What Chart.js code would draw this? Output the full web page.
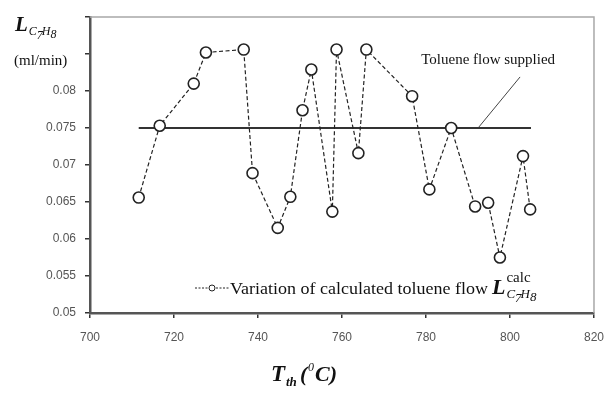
<!DOCTYPE html>
<html>
<head>
<meta charset="utf-8">
<script src="https://cdn.jsdelivr.net/npm/chart.js@4.4.0/dist/chart.umd.min.js"></script>
<style>
  html, body { margin: 0; padding: 0; background: #fff; }
  #wrap { width: 616px; height: 396px; }
</style>
</head>
<body>
<div id="wrap"><canvas id="chart1" width="616" height="396"></canvas></div>
<script>
// DONNEES
// Temperature Tth (°C)
let temperature = [711.6, 716.6, 724.7, 727.6, 736.6, 738.7, 744.7, 747.7, 750.6, 752.7, 757.7,
                   758.7, 763.9, 765.8, 776.7, 780.8, 786.0, 791.7, 794.8, 797.6, 803.1, 804.8];
// debit de toluene calcule (ml/min)
let debitCalcule = [0.0656, 0.0753, 0.0810, 0.0852, 0.0856, 0.0689, 0.0615, 0.0657, 0.0774, 0.0829, 0.0637,
                    0.0856, 0.0716, 0.0856, 0.0793, 0.0667, 0.0750, 0.0644, 0.0649, 0.0575, 0.0712, 0.0640];
// debit fourni (ligne horizontale)
let debitFourniX = [711.6, 805];
let debitFourniY = [0.075, 0.075];
// trait de renvoi vers l'etiquette
let renvoiX = [792.4, 802.4];
let renvoiY = [0.075, 0.0819];

let xTicks = [700, 720, 740, 760, 780, 800, 820];
let yTicks = [0.05, 0.055, 0.06, 0.065, 0.07, 0.075, 0.08];

function toPoints(xs, ys){
    return xs.map(function(x, i){ return {x: x, y: ys[i]}; });
}

const serif = '"Liberation Serif", "Times New Roman", serif';

// ecrit L avec indice C7H8 (et exposant optionnel)
function drawL(ctx, x, y, size, sup){
    ctx.save();
    ctx.fillStyle = '#111';
    ctx.textBaseline = 'alphabetic';
    ctx.textAlign = 'left';
    ctx.font = 'italic bold ' + size + 'px ' + serif;
    ctx.fillText('L', x, y);
    let w = ctx.measureText('L').width;
    let s = Math.round(size * 0.58);
    ctx.font = 'italic ' + s + 'px ' + serif;
    let sx = x + w + 1;
    ctx.fillText('C', sx, y + size * 0.2);
    sx += ctx.measureText('C').width;
    ctx.fillText('7', sx, y + size * 0.38);
    sx += ctx.measureText('7').width;
    ctx.fillText('H', sx - 1, y + size * 0.2);
    sx += ctx.measureText('H').width - 1;
    ctx.fillText('8', sx, y + size * 0.33);
    if (sup){
        ctx.font = s + 2 + 'px ' + serif;
        ctx.fillText(sup, x + w + 1, y - size * 0.55);
    }
    ctx.restore();
}

const decorPlugin = {
    id: 'decor',
    beforeDatasetsDraw(chart){
        const ctx = chart.ctx;
        const a = chart.chartArea;
        ctx.save();
        ctx.strokeStyle = '#a8a8a8';
        ctx.lineWidth = 1.5;
        ctx.beginPath();
        ctx.moveTo(a.left, a.top);
        ctx.lineTo(a.right, a.top);
        ctx.lineTo(a.right, a.bottom);
        ctx.stroke();
        ctx.restore();
    },
    afterDraw(chart){
        const ctx = chart.ctx;
        const xs = chart.scales.x;
        const ys = chart.scales.y;
        ctx.save();
        // titre axe y
        drawL(ctx, 15, 31, 21, null);
        ctx.fillStyle = '#111';
        ctx.font = '15px ' + serif;
        ctx.textAlign = 'left';
        ctx.textBaseline = 'middle';
        ctx.fillText('(ml/min)', 14, 61);

        // etiquette ligne
        ctx.font = '15px ' + serif;
        ctx.textAlign = 'center';
        ctx.fillText('Toluene flow supplied', xs.getPixelForValue(794.8), ys.getPixelForValue(0.0842));

        // legende
        let ly = 288;
        ctx.strokeStyle = '#222';
        ctx.lineWidth = 1;
        ctx.setLineDash([2, 1.5]);
        ctx.beginPath();
        ctx.moveTo(195, ly);
        ctx.lineTo(229, ly);
        ctx.stroke();
        ctx.setLineDash([]);
        ctx.fillStyle = '#fff';
        ctx.beginPath();
        ctx.arc(212, ly, 3, 0, Math.PI * 2);
        ctx.fill();
        ctx.stroke();
        ctx.fillStyle = '#111';
        ctx.font = '17px ' + serif;
        ctx.textAlign = 'left';
        ctx.textBaseline = 'alphabetic';
        let txt = 'Variation of calculated toluene flow';
        let tw = ctx.measureText(txt).width;
        ctx.save();
        ctx.translate(230, ly + 6);
        ctx.scale(258 / tw, 1);
        ctx.fillText(txt, 0, 0);
        ctx.restore();
        drawL(ctx, 492, ly + 6, 22, 'calc');

        // titre axe x
        ctx.font = 'italic bold 23px ' + serif;
        ctx.fillText('T', 271, 381);
        ctx.font = 'italic bold 13px ' + serif;
        ctx.fillText('th', 286, 386);
        ctx.font = 'italic bold 22px ' + serif;
        ctx.fillText('(', 300, 381);
        ctx.font = 'italic 12px ' + serif;
        ctx.fillText('0', 308, 371);
        ctx.font = 'italic bold 22px ' + serif;
        ctx.fillText('C)', 315, 381);
        ctx.restore();
    }
};

let ctx1 = document.getElementById('chart1').getContext('2d');

let config = {
    type: 'line',
    data: {
        datasets: [{
            label: 'calc',
            data: toPoints(temperature, debitCalcule),
            borderColor: '#222',
            borderWidth: 1.2,
            borderDash: [4, 2.5],
            pointRadius: 5.5,
            pointBorderWidth: 1.6,
            pointBackgroundColor: '#fff',
            pointBorderColor: '#222',
            tension: 0,
            order: 1
        }, {
            label: 'fourni',
            data: toPoints(debitFourniX, debitFourniY),
            borderColor: '#333',
            borderWidth: 2,
            pointRadius: 0,
            order: 2
        }, {
            label: 'renvoi',
            data: toPoints(renvoiX, renvoiY),
            borderColor: '#444',
            borderWidth: 1,
            pointRadius: 0,
            order: 3
        }]
    },
    options: {
        responsive: false,
        animation: false,
        layout: { padding: { top: 17, right: 21, left: 0, bottom: 0 } },
        plugins: {
            legend: { display: false },
            tooltip: { enabled: false }
        },
        scales: {
            x: {
                type: 'linear',
                min: 700,
                max: 820,
                afterBuildTicks: function(axis){ axis.ticks = xTicks.map(v => ({value: v})); },
                afterFit: function(axis){ axis.height = 83; },
                grid: { drawOnChartArea: false, drawTicks: true, tickLength: 5, color: '#333', lineWidth: 1.5 },
                border: { color: '#555', width: 2.5 },
                ticks: {
                    padding: 12,
                    color: '#555',
                    font: { family: '"Liberation Sans", Arial, sans-serif', size: 12 }
                }
            },
            y: {
                min: 0.05,
                max: 0.09,
                afterBuildTicks: function(axis){
                    axis.ticks = yTicks.concat([0.085, 0.09]).map(v => ({value: v}));
                },
                afterFit: function(axis){ axis.width = 90; },
                grid: { drawOnChartArea: false, drawTicks: true, tickLength: 5, color: '#333', lineWidth: 1.5 },
                border: { color: '#555', width: 2.5 },
                ticks: {
                    padding: 9,
                    color: '#555',
                    font: { family: '"Liberation Sans", Arial, sans-serif', size: 12 },
                    callback: function(v){ return v > 0.0801 ? '' : String(parseFloat(v.toFixed(3))); }
                }
            }
        }
    },
    plugins: [decorPlugin]
};

let chart1 = new Chart(ctx1, config);
</script>
</body>
</html>
